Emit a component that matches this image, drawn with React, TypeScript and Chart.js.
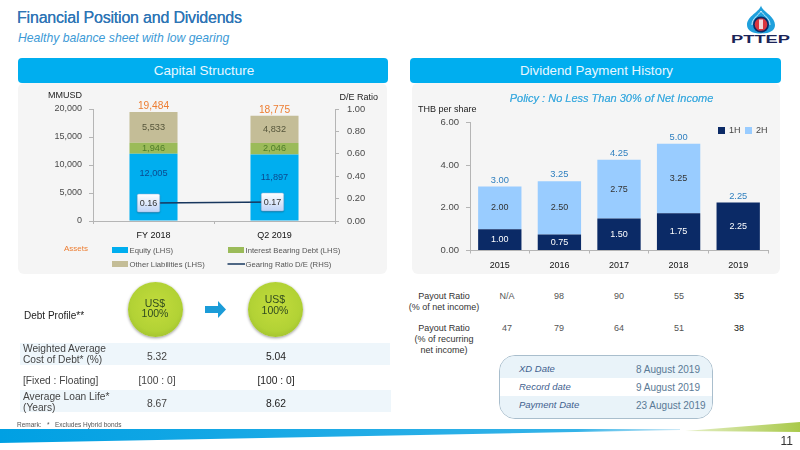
import React, { useEffect, useRef } from "react";
import { Chart, registerables } from "chart.js";

Chart.register(...registerables);

const capitalCategories = ["FY 2018", "Q2 2019"];
const equity = [12005, 11897];
const interestBearingDebt = [1946, 2046];
const otherLiabilities = [5533, 4832];
const gearingRatio = [0.16, 0.17];
const totalAssets = ["19,484", "18,775"];
const capitalLeftTicks = [0, 5000, 10000, 15000, 20000];

const dividendYears = ["2015", "2016", "2017", "2018", "2019"];
const firstHalf = [1.0, 0.75, 1.5, 1.75, 2.25];
const secondHalf = [2.0, 2.5, 2.75, 3.25, 0];
const totalDividend = ["3.00", "3.25", "4.25", "5.00", "2.25"];

const payoutNet = ["N/A", "98", "90", "55", "35"];
const payoutRecurring = ["47", "79", "64", "51", "38"];

const FONT = '"Liberation Sans", Arial, sans-serif';
const BLUE = "#00AEEF";
const TICK = "#4a4a4a";

const capitalPlugin = {
  id: "capitalLabels",
  afterDatasetsDraw(chart: any) {
    const ctx = chart.ctx;
    ctx.save();
    ctx.textAlign = "center";
    ctx.textBaseline = "middle";
    const colors = ["#0B4A8F", "#4F7D2A", "#55553A"];
    const formats = [equity, interestBearingDebt, otherLiabilities];
    const shift = [[-14, -10], [0, 0], [0, 0]];
    formats.forEach((vals, d) => {
      const meta = chart.getDatasetMeta(d);
      vals.forEach((v, i) => {
        const el: any = meta.data[i];
        ctx.font = `9.2px ${FONT}`;
        ctx.fillStyle = colors[d];
        ctx.fillText(v.toLocaleString("en-US"), el.x, (el.y + el.base) / 2 + shift[d][i]);
      });
    });
    const top = chart.getDatasetMeta(2);
    totalAssets.forEach((t, i) => {
      const el: any = top.data[i];
      ctx.font = `10.2px ${FONT}`;
      ctx.fillStyle = "#ED7D31";
      ctx.fillText(t, el.x, el.y - 5.5);
    });
    const line = chart.getDatasetMeta(3);
    const boxShift = [-5, -2];
    gearingRatio.forEach((v, i) => {
      const el: any = line.data[i];
      const w = 22.5, h = 18;
      const cx = el.x + boxShift[i];
      const x = cx - w / 2, y = el.y - h / 2;
      const g = ctx.createLinearGradient(0, y, 0, y + h);
      g.addColorStop(0, "#ffffff");
      g.addColorStop(1, "#BFD3F7");
      ctx.shadowColor = "rgba(0,0,0,0.35)";
      ctx.shadowBlur = 2;
      ctx.shadowOffsetY = 1;
      ctx.fillStyle = g;
      ctx.beginPath();
      ctx.roundRect(x, y, w, h, 1.5);
      ctx.fill();
      ctx.shadowColor = "transparent";
      ctx.strokeStyle = "#8FB0DC";
      ctx.lineWidth = 0.5;
      ctx.stroke();
      ctx.fillStyle = "#333";
      ctx.font = `9px ${FONT}`;
      ctx.fillText(v.toFixed(2), cx, el.y + 0.5);
    });
    // legend, read from the datasets
    const slots = [[94, 167], [210, 167], [94, 181], [210, 181]];
    ctx.textAlign = "left";
    ctx.font = `7.7px ${FONT}`;
    chart.data.datasets.forEach((ds: any, i: number) => {
      const [x, y] = slots[i];
      if (ds.type === "line") {
        ctx.strokeStyle = ds.borderColor;
        ctx.lineWidth = 1.5;
        ctx.beginPath();
        ctx.moveTo(x - 0.5, y);
        ctx.lineTo(x + 17, y);
        ctx.stroke();
      } else {
        ctx.fillStyle = ds.backgroundColor;
        ctx.fillRect(x, y - 3, 16, 6);
      }
      ctx.fillStyle = "#555";
      ctx.fillText(ds.label, x + 17.5, y + 0.5);
    });
    ctx.restore();
  },
};

const dividendPlugin = {
  id: "dividendLabels",
  afterDatasetsDraw(chart: any) {
    const ctx = chart.ctx;
    ctx.save();
    ctx.textAlign = "center";
    ctx.textBaseline = "middle";
    const m1 = chart.getDatasetMeta(0);
    const m2 = chart.getDatasetMeta(1);
    dividendYears.forEach((_, i) => {
      const a: any = m1.data[i];
      const b: any = m2.data[i];
      ctx.fillStyle = "#ffffff";
      ctx.font = `9px ${FONT}`;
      ctx.fillText(firstHalf[i].toFixed(2), a.x, (a.y + a.base) / 2);
      if (secondHalf[i] > 0) {
        ctx.fillStyle = "#333333";
        ctx.fillText(secondHalf[i].toFixed(2), b.x, (b.y + b.base) / 2);
      }
      ctx.fillStyle = "#2E7FBF";
      ctx.font = `9.3px ${FONT}`;
      ctx.fillText(totalDividend[i], a.x, (secondHalf[i] > 0 ? b.y : a.y) - 6.5);
    });
    ctx.textAlign = "left";
    ctx.font = `9px ${FONT}`;
    chart.data.datasets.forEach((ds: any, i: number) => {
      const x = 306 + i * 27;
      ctx.fillStyle = ds.backgroundColor;
      ctx.fillRect(x, 44, 7, 7);
      ctx.fillStyle = "#444";
      ctx.fillText(ds.label, x + 11, 47.5);
    });
    ctx.restore();
  },
};

function useChart(make: (c: HTMLCanvasElement) => Chart) {
  const ref = useRef<HTMLCanvasElement>(null);
  useEffect(() => {
    const chart = make(ref.current!);
    return () => chart.destroy();
  }, []);
  return ref;
}

const axisLine = { color: "#b5b5b5", width: 1 };

function CapitalChart() {
  const ref = useChart(
    (c) =>
      new Chart(c, {
        type: "bar",
        data: {
          labels: capitalCategories,
          datasets: [
            { label: "Equity (LHS)", data: equity, backgroundColor: BLUE, stack: "s", order: 2 },
            { label: "Interest Bearing Debt (LHS)", data: interestBearingDebt, backgroundColor: "#9BBB59", stack: "s", order: 2 },
            { label: "Other Liabilities (LHS)", data: otherLiabilities, backgroundColor: "#C4BD97", stack: "s", order: 2 },
            { type: "line", label: "Gearing Ratio D/E (RHS)", data: gearingRatio, yAxisID: "y1", borderColor: "#17375E", borderWidth: 1.5, pointRadius: 0, order: 1 },
          ] as any,
        },
        options: {
          responsive: false,
          animation: false,
          layout: { padding: { top: 26, left: 0, right: 0, bottom: 0 } },
          plugins: { legend: { display: false }, tooltip: { enabled: false } },
          datasets: { bar: { barPercentage: 0.397, categoryPercentage: 1 } },
          scales: {
            x: {
              stacked: true,
              grid: { drawOnChartArea: false, drawTicks: true, tickLength: 3, color: "#b5b5b5" },
              border: axisLine,
              ticks: { color: "#111", font: { family: FONT, size: 9 }, padding: 6, maxRotation: 0 },
              afterFit: (s: any) => { s.height = 52; },
            },
            y: {
              stacked: true,
              min: 0,
              max: 20000,
              afterBuildTicks: (s: any) => { s.ticks = capitalLeftTicks.map((value) => ({ value })); },
              grid: { drawOnChartArea: false, tickLength: 4, color: "#b5b5b5" },
              border: axisLine,
              ticks: { color: TICK, font: { family: FONT, size: 9 }, padding: 7, callback: (v: any) => Number(v).toLocaleString("en-US") },
              afterFit: (s: any) => { s.width = 75; },
            },
            y1: {
              position: "right",
              min: 0,
              max: 1,
              grid: { drawOnChartArea: false, tickLength: 4, color: "#b5b5b5" },
              border: axisLine,
              ticks: { stepSize: 0.2, color: TICK, font: { family: FONT, size: 9.3 }, padding: 8, callback: (v: any) => Number(v).toFixed(2) },
              afterFit: (s: any) => { s.width = 53; },
            },
          },
        } as any,
        plugins: [capitalPlugin],
      })
  );
  return <canvas ref={ref} width={370} height={190} style={{ position: "absolute", left: 18, top: 83, width: 370, height: 190 }} />;
}

function DividendChart() {
  const ref = useChart(
    (c) =>
      new Chart(c, {
        type: "bar",
        data: {
          labels: dividendYears,
          datasets: [
            { label: "1H", data: firstHalf, backgroundColor: "#0B2A66" },
            { label: "2H", data: secondHalf, backgroundColor: "#99CCFF" },
          ],
        },
        options: {
          responsive: false,
          animation: false,
          layout: { padding: { top: 39.5, left: 0, right: 12, bottom: 0 } },
          plugins: { legend: { display: false }, tooltip: { enabled: false } },
          datasets: { bar: { barPercentage: 0.727, categoryPercentage: 1 } },
          scales: {
            x: {
              stacked: true,
              grid: { drawOnChartArea: false, tickLength: 3, color: "#b5b5b5" },
              border: axisLine,
              ticks: { color: "#111", font: { family: FONT, size: 9 }, padding: 7, maxRotation: 0 },
              afterFit: (s: any) => { s.height = 22.5; },
            },
            y: {
              stacked: true,
              min: 0,
              max: 6,
              grid: { drawOnChartArea: false, tickLength: 4, color: "#b5b5b5" },
              border: axisLine,
              ticks: { stepSize: 2, color: TICK, font: { family: FONT, size: 9.5 }, padding: 7, callback: (v: any) => Number(v).toFixed(2) },
              afterFit: (s: any) => { s.width = 58; },
            },
          },
        } as any,
        plugins: [dividendPlugin],
      })
  );
  return <canvas ref={ref} width={368} height={190} style={{ position: "absolute", left: 412, top: 83, width: 368, height: 190 }} />;
}

type TP = { x: number; y: number; size: number; color?: string; align?: "left" | "center" | "right"; italic?: boolean; bold?: boolean; lh?: number; spacing?: number; shadow?: string; children: React.ReactNode };
function T({ x, y, size, color = "#333", align = "left", italic, bold, lh, spacing, shadow, children }: TP) {
  const tx = align === "center" ? "translateX(-50%)" : align === "right" ? "translateX(-100%)" : "none";
  return (
    <div
      style={{
        position: "absolute", left: x, top: y, transform: tx, fontSize: size, color, textAlign: align,
        fontStyle: italic ? "italic" : "normal", fontWeight: bold ? 700 : 400, lineHeight: lh ? `${lh}px` : 1.15,
        letterSpacing: spacing, whiteSpace: "nowrap", fontFamily: FONT, textShadow: shadow,
      }}
    >
      {children}
    </div>
  );
}

function Box({ x, y, w, h, bg, r }: { x: number; y: number; w: number; h: number; bg: string; r?: number }) {
  return <div style={{ position: "absolute", left: x, top: y, width: w, height: h, background: bg, borderRadius: r }} />;
}

function Bubble({ cx, cy }: { cx: number; cy: number }) {
  return (
    <div
      style={{
        position: "absolute", left: cx - 27.5, top: cy - 27.5, width: 55, height: 55, borderRadius: "50%",
        background: "radial-gradient(circle at 50% 45%, #C3DC3C 0%, #B2D235 60%, #8FAE28 100%)",
        boxShadow: "0 1px 3px rgba(0,0,0,0.4)",
      }}
    />
  );
}

const payoutColumns = [507, 559, 619, 679, 739];

export default function App() {
  return (
    <div style={{ position: "fixed", left: 0, top: 0, width: 800, height: 450, background: "#fff", overflow: "hidden", fontFamily: FONT }}>
      <T x={17} y={9} size={16} color="#2F75B5" spacing={-0.2} shadow="0 0 0.6px #2F75B5">Financial Position and Dividends</T>
      <T x={18} y={31} size={12.2} color="#3C9AD6" italic>Healthy balance sheet with low gearing</T>

      <svg width={70} height={50} style={{ position: "absolute", left: 730, top: 0 }}>
        <path d="M31 5.5 C29.5 12 17 16 17 25 C17 31 23 33.5 31 33.5 C39 33.5 45 31 45 25 C45 16 32.5 12 31 5.5 Z" fill="#1FA0DC" />
        <path d="M31 11 C29 15 22 18 22 25" fill="none" stroke="#ffffff" strokeWidth={0.8} />
        <path d="M31 11 C33 15 40 18 40 25" fill="none" stroke="#ffffff" strokeWidth={0.8} />
        <circle cx={31} cy={24.5} r={8} fill="#0B2A66" />
        <circle cx={31} cy={24.5} r={6.3} fill="#D9363E" />
        <rect x={29} y={19.5} width={4} height={9.5} fill="#F2D9D9" />
        <text x={1} y={43} textLength={59} lengthAdjust="spacingAndGlyphs" fontFamily={FONT} fontWeight={700} fontSize={10} fill="#1B2458">PTTEP</text>
      </svg>

      <Box x={18} y={83} w={369} h={191} bg="#F5F5F5" r={6} />
      <Box x={412} y={83} w={368} h={191} bg="#F5F5F5" r={6} />
      <Box x={18} y={58} w={370} h={25} bg={BLUE} r={4} />
      <Box x={410} y={58} w={371} h={25} bg={BLUE} r={4} />
      <T x={204} y={63} size={13.5} color="#E8F7FF" align="center">Capital Structure</T>
      <T x={596.5} y={63} size={13.3} color="#E8F7FF" align="center">Dividend Payment History</T>

      <CapitalChart />
      <DividendChart />

      <T x={48} y={90} size={9} color="#222">MMUSD</T>
      <T x={339.5} y={92} size={9} color="#222">D/E Ratio</T>
      <T x={64} y={244} size={8} color="#ED7D31">Assets</T>
      <T x={418} y={104} size={9} color="#222">THB per share</T>
      <T x={611.5} y={92} size={11} color="#45AEE0" italic align="center" shadow="0 0 0.5px #45AEE0">Policy : No Less Than 30% of Net Income</T>

      <Bubble cx={155} cy={309} />
      <Bubble cx={275} cy={309} />
      <T x={155} y={298} size={10.5} color="#2F4A1F" align="center" lh={10}>US$<br />100%</T>
      <T x={275} y={294} size={10.5} color="#2F4A1F" align="center" lh={11}>US$<br />100%</T>
      <svg width={24} height={20} style={{ position: "absolute", left: 204, top: 300 }}>
        <polygon points="1,6 14,6 14,1 22,9.5 14,18 14,13 1,13" fill="#1B9CD8" />
      </svg>
      <T x={24} y={310} size={10} color="#222">Debt Profile**</T>

      <Box x={20} y={343} w={370} h={22} bg="#EEF6FB" />
      <Box x={20} y={390} w={371} h={22} bg="#EEF6FB" />
      <T x={23} y={343} size={10.2} color="#444" lh={11}>Weighted Average<br />Cost of Debt* (%)</T>
      <T x={157} y={350.5} size={10.3} color="#444" align="center">5.32</T>
      <T x={276} y={350.5} size={10.3} color="#222" align="center">5.04</T>
      <T x={23} y={375} size={10.2} color="#444">[Fixed : Floating]</T>
      <T x={157} y={375} size={10.3} color="#444" align="center">[100 : 0]</T>
      <T x={276} y={375} size={10.3} color="#222" align="center">[100 : 0]</T>
      <T x={23} y={391} size={10.2} color="#444" lh={11}>Average Loan Life*<br />(Years)</T>
      <T x={157} y={398} size={10.3} color="#444" align="center">8.67</T>
      <T x={276} y={398} size={10.3} color="#222" align="center">8.62</T>
      <T x={17} y={421} size={6.5} color="#555">Remark:&nbsp;&nbsp; *&nbsp;&nbsp; Excludes Hybrid bonds</T>

      <T x={444} y={291} size={9} color="#333" align="center" lh={11}>Payout Ratio<br />(% of net income)</T>
      <T x={444} y={322.5} size={9} color="#333" align="center" lh={11}>Payout Ratio<br />(% of recurring<br />net income)</T>
      {payoutColumns.map((x, i) => (
        <React.Fragment key={x}>
          <T x={x} y={291} size={9} color={i === 4 ? "#111" : "#555"} align="center">{payoutNet[i]}</T>
          <T x={x} y={323} size={9} color={i === 4 ? "#111" : "#555"} align="center">{payoutRecurring[i]}</T>
        </React.Fragment>
      ))}

      <div style={{ position: "absolute", left: 499, top: 355, width: 214, height: 64, border: "1px solid #A9BECD", borderRadius: 16, boxSizing: "border-box", overflow: "hidden", background: "#fff" }}>
        <div style={{ position: "absolute", left: 0, top: 0, width: "100%", height: 22, background: "#E9F3F9" }} />
        <div style={{ position: "absolute", left: 0, top: 40, width: "100%", height: 24, background: "#E9F3F9" }} />
      </div>
      <T x={519} y={364} size={9.5} color="#3F5F8F" italic>XD Date</T>
      <T x={519} y={382} size={9.5} color="#3F5F8F" italic>Record date</T>
      <T x={519} y={400} size={9.5} color="#3F5F8F" italic>Payment Date</T>
      <T x={636} y={364} size={10} color="#5A7A96">8 August 2019</T>
      <T x={636} y={382} size={10} color="#5A7A96">9 August 2019</T>
      <T x={636} y={400} size={10} color="#5A7A96">23 August 2019</T>

      <svg width={800} height={30} style={{ position: "absolute", left: 0, top: 420 }}>
        <defs>
          <linearGradient id="fb" x1="0" x2="1" y1="0" y2="0">
            <stop offset="0" stopColor="#00A0E3" />
            <stop offset="0.85" stopColor="#35B3E8" />
            <stop offset="1" stopColor="#CFEAF7" />
          </linearGradient>
          <linearGradient id="fg" x1="0" x2="1" y1="0" y2="0">
            <stop offset="0" stopColor="#E6F0C8" />
            <stop offset="1" stopColor="#A9C94A" />
          </linearGradient>
        </defs>
        <polygon points="0,9 680,9 680,10 0,23" fill="url(#fb)" />
        <polygon points="685,11 800,2 800,12" fill="url(#fg)" />
      </svg>
      <T x={793} y={435} size={12} color="#333" align="right">11</T>
    </div>
  );
}
